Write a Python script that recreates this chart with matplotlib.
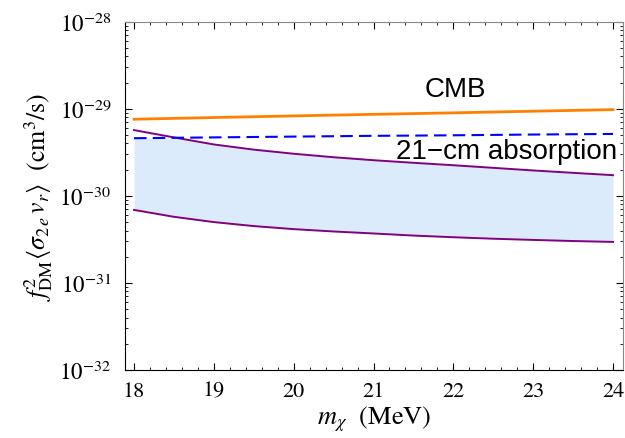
import matplotlib
matplotlib.use('Agg')
import matplotlib.pyplot as plt
import numpy as np
from matplotlib.ticker import FixedLocator, MultipleLocator, NullFormatter

# dark matter mass grid (MeV)
m_chi = [18.0, 18.5, 19.0, 19.5, 20.0, 20.5, 21.0, 21.5, 22.0, 22.5, 23.0, 23.5, 24.0]

# purple band edges (cm^3/s)
band_upper = [5.7e-30, 4.7e-30, 3.9e-30, 3.4e-30, 3.05e-30, 2.78e-30, 2.57e-30,
              2.4e-30, 2.25e-30, 2.1e-30, 1.96e-30, 1.84e-30, 1.73e-30]
band_lower = [6.9e-31, 5.75e-31, 5.0e-31, 4.5e-31, 4.15e-31, 3.9e-31, 3.7e-31,
              3.5e-31, 3.35e-31, 3.22e-31, 3.12e-31, 3.03e-31, 2.96e-31]

# 21-cm absorption bound
cm21 = [4.6e-30, 4.65e-30, 4.7e-30, 4.75e-30, 4.8e-30, 4.85e-30, 4.9e-30,
        4.93e-30, 4.97e-30, 5.02e-30, 5.07e-30, 5.11e-30, 5.15e-30]

# CMB bound
m_cmb = [18, 19, 20, 21, 22, 23, 24]
cmb = [7.6e-30, 7.95e-30, 8.3e-30, 8.65e-30, 9.0e-30, 9.4e-30, 9.8e-30]

decades = [1e-32, 1e-31, 1e-30, 1e-29, 1e-28]

plt.rcParams['font.family'] = 'STIXGeneral'
plt.rcParams['mathtext.fontset'] = 'stix'

fig = plt.figure(figsize=(6.25, 4.39), dpi=100)
ax = fig.add_axes([0.2, 0.155, 0.7968, 0.793])

top = np.minimum(np.array(band_upper), np.array(cm21))
ax.fill_between(m_chi, band_lower, top, color='#dcebfc', lw=0)
ax.plot(m_chi, band_upper, color='#800080', lw=1.4)
ax.plot(m_chi, band_lower, color='#800080', lw=1.4)
ax.plot(m_chi, cm21, color='#0000ff', lw=1.5, dashes=(6, 3))
ax.plot(m_cmb, cmb, color='#ff8000', lw=2.0)

ax.text(22.02, 1.68e-29, 'CMB', fontsize=20, family='Liberation Sans',
        ha='center', va='center')
ax.text(24.05, 3.3e-30, '21\u2212cm absorption', fontsize=20, family='Liberation Sans',
        ha='right', va='center')

ax.set_yscale('log')
ax.set_xlim(17.887, 24.125)
ax.set_ylim(1e-32, 1e-28)

ax.xaxis.set_major_locator(MultipleLocator(1))
ax.xaxis.set_minor_locator(MultipleLocator(0.2))
ax.set_yticks(decades)
ax.set_yticklabels([r'$10^{%d}$' % int(np.log10(d)) for d in decades])
minor = [k * d for d in decades[:-1] for k in range(2, 10)]
ax.yaxis.set_minor_locator(FixedLocator(minor))
ax.yaxis.set_minor_formatter(NullFormatter())

ax.tick_params(which='both', direction='in', top=True, right=True)
ax.tick_params(which='major', length=5, width=0.8)
ax.tick_params(which='minor', length=2.5, width=0.6)
ax.tick_params(axis='x', pad=8, labelsize=16)
ax.tick_params(axis='y', pad=10, labelsize=16.5)

for side in ['left', 'bottom']:
    ax.spines[side].set_color('black')
for side in ['top', 'right']:
    ax.spines[side].set_color('#888888')

ax.set_xlabel(r'$m_\chi$  (MeV)', fontsize=19, labelpad=2)
ax.set_ylabel(r'$f^2_{\rm DM}\langle\sigma_{2\,e}\,v_r\rangle$  (cm$^3$/s)', fontsize=18.5, labelpad=3)

fig.savefig('out.png', dpi=100)
